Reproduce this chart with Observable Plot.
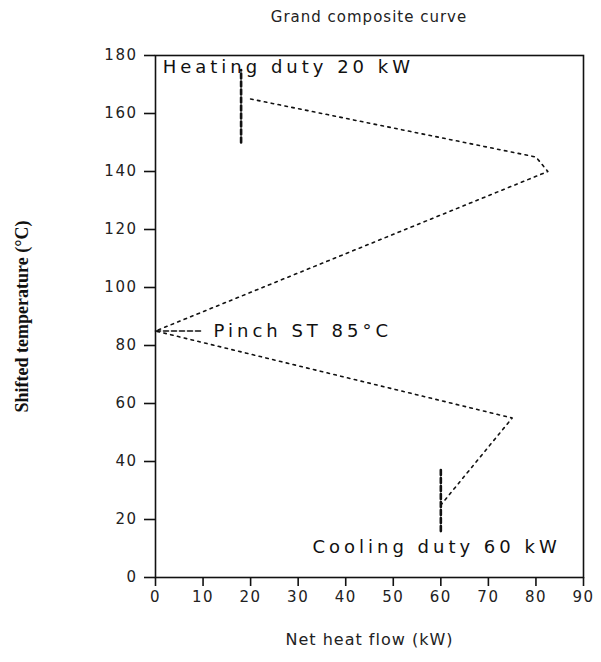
<!DOCTYPE html>
<html>
<head>
<meta charset="utf-8">
<script src="https://cdn.jsdelivr.net/npm/d3@7"></script>
<script src="https://cdn.jsdelivr.net/npm/@observablehq/plot@0.6"></script>
<style>
  html, body { margin: 0; padding: 0; background: #fff; }
  #chart { width: 601px; }
  .title {
    height: 36px;
    box-sizing: border-box;
    padding: 8px 18px 0 155px;
    text-align: center;
    font-family: "DejaVu Sans", sans-serif;
    font-size: 15px;
    letter-spacing: 1px;
    color: #222;
  }
</style>
</head>
<body>
<div id="chart"></div>
<script>
// Grand composite curve: shifted temperature against net heat flow
const shiftedTemps = [165, 145, 140, 85, 55, 25];          // °C
const netHeatFlow  = [20, 80, 82.5, 0, 75, 60];            // kW

// Utility markers
const heatingDuty = 20;   // kW
const coolingDuty = 60;   // kW
const pinchTemp = 85;     // °C
const heatingMarkerHeat = [18, 18];
const heatingMarkerTemp = [150, 175];
const coolingMarkerHeat = [coolingDuty, coolingDuty];
const coolingMarkerTemp = [16, 38];
const pinchMarkerHeat = [0, 10];
const pinchMarkerTemp = [pinchTemp, pinchTemp];

// Annotation texts
const annotationTexts = [
  `Heating duty ${heatingDuty} kW`,
  `Pinch ST ${pinchTemp}°C`,
  `Cooling duty ${coolingDuty} kW`
];
const annotationHeat = [1.5, 12.2, 33];
const annotationTemp = [176, pinchTemp, 10.4];

const xTicks = [0, 10, 20, 30, 40, 50, 60, 70, 80, 90];
const yTicks = [0, 20, 40, 60, 80, 100, 120, 140, 160, 180];
const xLabel = "Net heat flow (kW)";
const yLabel = "Shifted temperature (°C)";

const gcc = shiftedTemps.map((t, i) => ({temp: t, heat: netHeatFlow[i]}));
const pair = (hs, ts) => hs.map((h, i) => ({heat: h, temp: ts[i]}));
const annotations = annotationTexts.map((text, i) => ({text, heat: annotationHeat[i], temp: annotationTemp[i]}));

const title = document.createElement("div");
title.className = "title";
title.textContent = "Grand composite curve";

const plot = Plot.plot({
  width: 601,
  height: 626,
  marginLeft: 155,
  marginRight: 18,
  marginTop: 19,
  marginBottom: 85,
  style: {fontFamily: "DejaVu Sans, sans-serif", fontSize: "14px", color: "#222", background: "#fff", overflow: "visible"},
  x: {domain: [0, 90]},
  y: {domain: [0, 180]},
  marks: [
    Plot.frame({stroke: "#111", strokeWidth: 1.6}),
    Plot.axisX({
      ticks: xTicks, tickSize: 9, tickPadding: 5, strokeWidth: 1.6, stroke: "#111",
      label: null, fontSize: 15
    }),
    Plot.axisY({
      ticks: yTicks, tickSize: 11, tickPadding: 7, strokeWidth: 1.6, stroke: "#111",
      label: null, fontSize: 15
    }),
    Plot.text([xLabel], {
      frameAnchor: "bottom", dy: 67, text: d => d, textAnchor: "middle",
      fontSize: 16, fill: "#222"
    }),
    Plot.text([yLabel], {
      frameAnchor: "left", dx: -133, rotate: -90, text: d => d, textAnchor: "middle",
      fontFamily: "Liberation Serif, serif", fontWeight: "bold", fontSize: 18, fill: "#111"
    }),
    Plot.line(gcc, {x: "heat", y: "temp", stroke: "#111", strokeWidth: 1.6, strokeDasharray: "2.5,4.5"}),
    Plot.line(pair(heatingMarkerHeat, heatingMarkerTemp), {x: "heat", y: "temp", stroke: "#111", strokeWidth: 2.6, strokeDasharray: "5,3"}),
    Plot.line(pair(coolingMarkerHeat, coolingMarkerTemp), {x: "heat", y: "temp", stroke: "#111", strokeWidth: 2.6, strokeDasharray: "5,3"}),
    Plot.line(pair(pinchMarkerHeat, pinchMarkerTemp), {x: "heat", y: "temp", stroke: "#111", strokeWidth: 1.6, strokeDasharray: "5,3"}),
    Plot.text(annotations, {
      x: "heat", y: "temp", text: "text", textAnchor: "start",
      fontSize: 18, fill: "#111"
    })
  ]
});

// Wide lettering for the annotations and axis texts
const tickStrings = new Set([...xTicks, ...yTicks].map(String));
d3.select(plot).selectAll("text").each(function() {
  const s = this.textContent;
  if (annotationTexts.includes(s)) this.style.letterSpacing = "4px";
  else if (tickStrings.has(s)) this.style.letterSpacing = "1.5px";
  else if (s === xLabel) this.style.letterSpacing = "1px";
});

const chart = document.getElementById("chart");
chart.appendChild(title);
chart.appendChild(plot);
</script>
</body>
</html>
